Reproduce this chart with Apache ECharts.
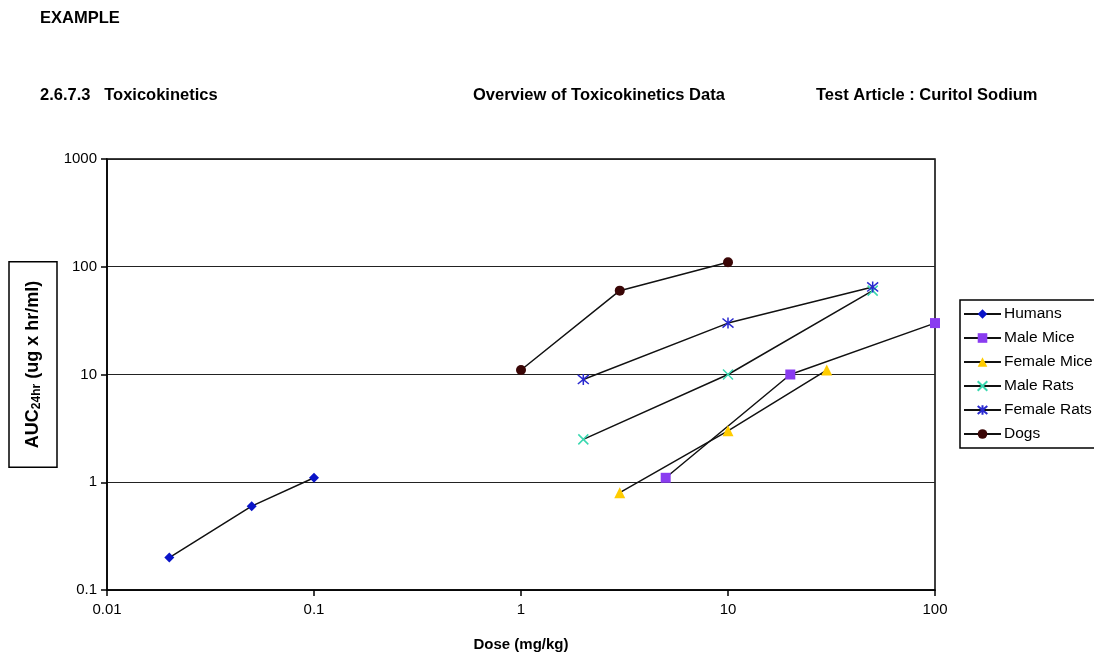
<!DOCTYPE html>
<html>
<head>
  <meta charset="utf-8">
  <title>Overview of Toxicokinetics Data</title>
  <script src="https://cdn.jsdelivr.net/npm/echarts@6/dist/echarts.min.js"></script>
  <style>
    html, body { margin: 0; padding: 0; background: #fff; }
    #chart { width: 1094px; height: 652px; }
  </style>
</head>
<body>
<div id="chart"></div>
<script>
// dose (mg/kg) and AUC24hr (ug x hr/ml)
const seriesNames = ['Humans', 'Male Mice', 'Female Mice', 'Male Rats', 'Female Rats', 'Dogs'];
const humans      = [[0.02, 0.2], [0.05, 0.6], [0.1, 1.1]];
const maleMice    = [[5, 1.1], [20, 10], [100, 30]];
const femaleMice  = [[3, 0.8], [10, 3], [30, 11]];
const maleRats    = [[2, 2.5], [10, 10], [50, 60]];
const femaleRats  = [[2, 9], [10, 30], [50, 65]];
const dogs        = [[1, 11], [3, 60], [10, 110]];

const xTicks = [0.01, 0.1, 1, 10, 100];
const yTicks = [0.1, 1, 10, 100, 1000];

const FONT = 'Liberation Sans';

// marker looks, one per series
const markers = [
  {symbol: 'diamond', size: 10, color: '#0a14c8', stroke: 0},
  {symbol: 'rect', size: 10, color: '#8a3cf0', stroke: 0},
  {symbol: 'triangle', size: 11, color: '#ffcc00', stroke: 0},
  {symbol: 'path://M0,0L10,10M10,0L0,10', size: 10, color: '#3ad8b0', stroke: 1.5},
  {symbol: 'path://M0,0L10,10M10,0L0,10M5,-1L5,11', size: 11, color: '#2a2ad0', stroke: 1.5},
  {symbol: 'circle', size: 10, color: '#3a0606', stroke: 0},
];
const allData = [humans, maleMice, femaleMice, maleRats, femaleRats, dogs];

function fmt(v) {
  return String(Number(v.toPrecision(3)));
}

var chart = echarts.init(document.getElementById('chart'));

var option = {
  animation: false,
  backgroundColor: '#fff',
  textStyle: { fontFamily: FONT },
  title: [
    {text: 'EXAMPLE', left: 40, top: 10},
    {text: '2.6.7.3   Toxicokinetics', left: 40, top: 87},
    {text: 'Overview of Toxicokinetics Data', left: 473, top: 87},
    {text: 'Test Article : Curitol Sodium', left: 816, top: 87},
  ].map(t => Object.assign(t, {
    padding: 0,
    textStyle: {fontFamily: FONT, fontSize: 16.5, fontWeight: 'bold', color: '#000'}
  })),
  grid: {
    left: 107, right: 159, top: 159, bottom: 62,
    outerBoundsMode: 'none',
    show: true, borderColor: '#000', borderWidth: 1.5
  },
  legend: {
    orient: 'vertical',
    left: 960, top: 300,
    padding: [6, 12, 6, 3],
    borderColor: '#000', borderWidth: 1.5,
    itemWidth: 37, itemHeight: 12, itemGap: 8,
    data: seriesNames,
    textStyle: {fontFamily: FONT, fontSize: 15.5, color: '#000', padding: [0, 0, 0, -2]}
  },
  xAxis: {
    type: 'log', logBase: 10,
    min: xTicks[0], max: xTicks[xTicks.length - 1],
    name: 'Dose (mg/kg)', nameLocation: 'middle', nameGap: 47,
    nameTextStyle: {fontFamily: FONT, fontSize: 15, fontWeight: 'bold', color: '#000'},
    axisLine: {lineStyle: {color: '#000', width: 1.5}},
    axisTick: {show: true, length: 6, lineStyle: {color: '#000', width: 1.5}},
    axisLabel: {margin: 12, fontFamily: FONT, fontSize: 15, color: '#000', formatter: fmt},
    splitLine: {show: false}
  },
  yAxis: {
    type: 'log', logBase: 10,
    min: yTicks[0], max: yTicks[yTicks.length - 1],
    axisLine: {lineStyle: {color: '#000', width: 1.5}},
    axisTick: {show: true, length: 6, lineStyle: {color: '#000', width: 1.5}},
    axisLabel: {margin: 10, fontFamily: FONT, fontSize: 15, color: '#000', formatter: fmt},
    splitLine: {show: true, lineStyle: {color: '#222', width: 1.2}}
  },
  graphic: [{
    type: 'text',
    x: 33, y: 364.5,
    rotation: Math.PI / 2,
    style: {
      text: '{a|AUC}{s|24hr}{a| (ug x hr/ml)}',
      align: 'center', verticalAlign: 'middle',
      textAlign: 'center', textVerticalAlign: 'middle',
      borderColor: '#000', borderWidth: 1.5,
      padding: [14, 19, 14, 19],
      rich: {
        a: {fontFamily: FONT, fontSize: 18, fontWeight: 'bold', fill: '#000', color: '#000'},
        s: {fontFamily: FONT, fontSize: 12, fontWeight: 'bold', fill: '#000', color: '#000', padding: [8, 0, 0, 0]}
      }
    }
  }],
  series: seriesNames.map((name, i) => ({
    name: name,
    type: 'line',
    data: allData[i],
    symbol: markers[i].symbol,
    symbolSize: markers[i].size,
    showSymbol: true,
    lineStyle: {color: '#111', width: 1.5},
    itemStyle: {
      color: markers[i].color,
      borderColor: markers[i].color,
      borderWidth: markers[i].stroke
    },
    z: 3
  }))
};

chart.setOption(option);
</script>
</body>
</html>
